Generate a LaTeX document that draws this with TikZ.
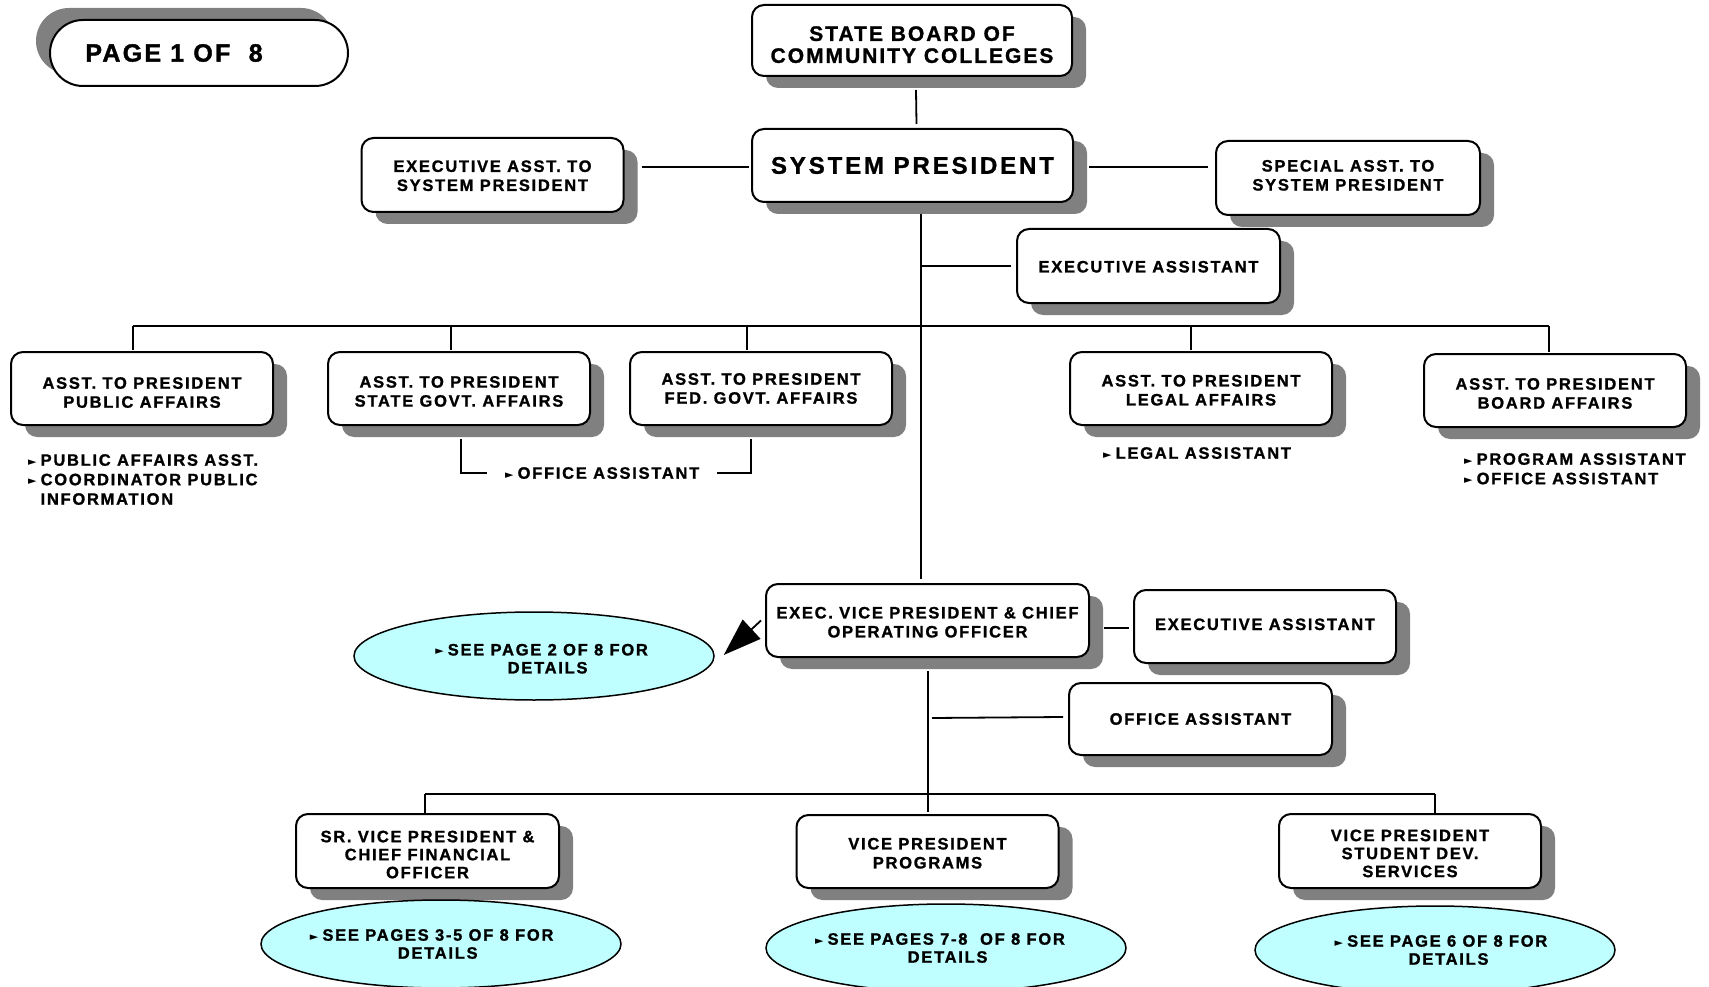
\documentclass[tikz,border=0pt]{standalone}
\usepackage{fontspec}
\setmainfont{Liberation Sans}
\newfontfamily\boxfont{Liberation Sans}[LetterSpace=10.5,FakeBold=1.2]
\newfontfamily\boardfont{Liberation Sans}[LetterSpace=9.5,FakeBold=1.2]
\newfontfamily\presfont{Liberation Sans}[LetterSpace=12,FakeBold=1.2]
\newfontfamily\pagefont{Liberation Sans}[LetterSpace=9,FakeBold=1.5]
\newfontfamily\symfont{DejaVu Sans}
\usetikzlibrary{shadows,calc,arrows.meta,shapes.geometric}

\definecolor{shade}{RGB}{128,128,128}
\definecolor{seefill}{RGB}{192,255,255}

% small pointer used in front of listed positions
\newcommand\ptr{\raisebox{0.5pt}{\symfont\fontsize{11}{11}\selectfont ►}\hspace{4pt}}
% strut that sets the height of a first text line
\newcommand\lift[1]{\rule{0pt}{#1}}
% strut that sets the depth of a last text line
\newcommand\sink[1]{\rule[-#1]{0pt}{#1}}
% move one centred line sideways without changing its width
\newcommand\nudge[2]{\hspace*{#1}#2\hspace*{-#1}}

\tikzset{
  orgbox/.style={draw, line width=2pt, rounded corners=12pt, fill=white,
    general shadow={fill=shade, shadow xshift=14pt, shadow yshift=-12pt},
    align=center, inner sep=0pt, minimum width=262pt, minimum height=73pt,
    font={\boxfont\bfseries\fontsize{16.5}{19}\selectfont}},
  pagebox/.style={draw, line width=2pt, rounded corners=33pt, fill=white,
    general shadow={fill=shade, shadow xshift=-14pt, shadow yshift=12pt},
    inner sep=0pt, minimum width=298pt, minimum height=66pt,
    font={\pagefont\bfseries\fontsize{25}{28}\selectfont}},
  seeoval/.style={ellipse, draw, line width=1.5pt, fill=seefill,
    minimum width=360pt, minimum height=88pt, inner sep=0pt, align=center,
    font={\boxfont\bfseries\fontsize{16.5}{18}\selectfont}},
  note/.style={anchor=north west, align=left, inner sep=0pt,
    font={\boxfont\bfseries\fontsize{16.5}{19.5}\selectfont}},
  link/.style={line width=1.8pt}
}

\begin{document}
\begin{tikzpicture}[x=1pt,y=-1pt]
\clip (0,0) rectangle (1709,987);

% page marker
\node[pagebox] (pg) at (199,53) {PAGE 1 OF\ \ 8\hspace*{50pt}};

% top of the organisation
\node[orgbox, minimum width=320pt, minimum height=71pt,
  font={\boardfont\bfseries\fontsize{21}{22}\selectfont}] (board) at (912,40.5)
  {\lift{23pt}STATE BOARD OF\\COMMUNITY COLLEGES};
\node[orgbox, minimum width=321pt,
  font={\presfont\bfseries\fontsize{24}{26}\selectfont}] (pres) at (912.5,165.5)
  {SYSTEM PRESIDENT};
\node[orgbox, minimum height=74pt] (eats) at (492.5,175) {\lift{13pt}EXECUTIVE ASST. TO\\SYSTEM PRESIDENT};
\node[orgbox, minimum width=264pt, minimum height=74pt] (sasp) at (1348,178) {SPECIAL ASST. TO\\SYSTEM PRESIDENT\sink{5.5pt}};
\node[orgbox, minimum width=263pt, minimum height=74pt] (ea1) at (1148.5,266) {\lift{13pt}EXECUTIVE ASSISTANT};

% assistants to the president
\node[orgbox] (pa) at (142,388.5) {\lift{19.6pt}ASST. TO PRESIDENT\\PUBLIC AFFAIRS};
\node[orgbox] (sg) at (459,388.5) {\lift{17.4pt}ASST. TO PRESIDENT\\STATE GOVT. AFFAIRS};
\node[orgbox] (fg) at (761,388.5) {ASST. TO PRESIDENT\\FED. GOVT. AFFAIRS};
\node[orgbox] (la) at (1201,388.5) {\lift{15pt}ASST. TO PRESIDENT\\LEGAL AFFAIRS};
\node[orgbox] (ba) at (1555,390.5) {\lift{17.4pt}ASST. TO PRESIDENT\\BOARD AFFAIRS};

% staff listed under the assistants
\node[note] (paL) at (28,454) {\ptr PUBLIC AFFAIRS ASST.\\\ptr COORDINATOR PUBLIC\\\phantom{\ptr}INFORMATION};
\node[note] (ofL) at (505,467) {\ptr OFFICE ASSISTANT};
\node[note] (laL) at (1103,447) {\ptr LEGAL ASSISTANT};
\node[note] (baL) at (1464,453) {\ptr PROGRAM ASSISTANT\\\ptr OFFICE ASSISTANT};

% executive vice president and staff
\node[orgbox, minimum width=323pt] (evp) at (927.5,620.5) {\lift{15pt}EXEC. VICE PRESIDENT \& CHIEF\\OPERATING OFFICER};
\node[orgbox] (ea2) at (1265,626.5) {EXECUTIVE ASSISTANT\sink{4.5pt}};
\node[orgbox, minimum width=263pt, minimum height=72pt] (oa) at (1200.5,719) {OFFICE ASSISTANT};
\node[seeoval] (see2) at (534,656)
  {\lift{17pt}\nudge{7.6pt}{\ptr SEE PAGE 2 OF 8 FOR}\\\nudge{13.6pt}{DETAILS}};

% vice presidents
\node[orgbox, minimum width=263pt, minimum height=74pt,
  font={\boxfont\bfseries\fontsize{16.5}{18}\selectfont}] (svp) at (427.5,851)
  {\lift{18.6pt}SR. VICE PRESIDENT \&\\CHIEF FINANCIAL\\OFFICER};
\node[orgbox] (vpp) at (927.5,851.5) {\lift{15pt}VICE PRESIDENT\\PROGRAMS};
\node[orgbox, minimum height=74pt,
  font={\boxfont\bfseries\fontsize{16.5}{18}\selectfont}] (vps) at (1410,851)
  {\lift{16.4pt}VICE PRESIDENT\\STUDENT DEV.\\SERVICES};
\node[seeoval] (see35) at (441,944)
  {\nudge{-9.3pt}{\ptr SEE PAGES 3-5 OF 8 FOR}\\\nudge{-3.3pt}{DETAILS}};
\node[seeoval] (see78) at (946,948)
  {\nudge{-6pt}{\ptr SEE PAGES 7-8\ \ OF 8 FOR}\\\nudge{1.6pt}{DETAILS}};
\node[seeoval] (see6) at (1435,950)
  {\nudge{6pt}{\ptr SEE PAGE 6 OF 8 FOR}\\\nudge{13.6pt}{DETAILS}};

% connectors at the top
\draw[link] ($(board.south)+(4,13)$) -- ($(pres.north)+(4,-4)$);
\draw[link] ($(pres.west)+(-2,1.5)$) -- ($(eats.east)+(17,-8)$);
\draw[link] ($(pres.east)+(15,1.5)$) -- ($(sasp.west)+(-7,-11)$);
\coordinate (trunk) at ($(pres.south)+(8.5,11)$);
\draw[link] (trunk) -- ($(evp.north)+(-6.5,-4)$);
\draw[link] (trunk |- ea1.west) -- ($(ea1.west)+(-5,0)$);

% bus to the assistants
\coordinate (busL) at ($(pa.north)+(-9,-25)$);
\draw[link] (busL) -- ($(ba.north)+(-6,-27)$);
\draw[link] (busL) -- ($(pa.north)+(-9,-1)$);
\draw[link] ($(sg.north)+(-8,-25)$) -- ($(sg.north)+(-8,-1)$);
\draw[link] ($(fg.north)+(-14,-25)$) -- ($(fg.north)+(-14,-1)$);
\draw[link] ($(la.north)+(-10,-25)$) -- ($(la.north)+(-10,-1)$);
\draw[link] ($(ba.north)+(-6,-27)$) -- ($(ba.north)+(-6,-1)$);

% shared office assistant bracket
\draw[link] ($(sg.south)+(2,13)$) |- ($(ofL.west)+(-18,0)$);
\draw[link] ($(ofL.east)+(18,0)$) -| ($(fg.south)+(-10,13)$);

% executive vice president branches
\draw[link, -{Triangle[length=38pt,width=26pt]}] ($(evp.west)+(-4,0)$) -- ($(see2.east)+(9,-1)$);
\draw[link] ($(evp.east)+(14,7.5)$) -- ($(ea2.west)+(-4,1.5)$);
\coordinate (trunkB) at ($(evp.south)+(0.5,13)$);
\draw[link] (trunkB) -- ($(vpp.north)+(0.5,-2)$);
\draw[link] ($(trunkB)+(4,47)$) -- ($(oa.west)+(-5,-2)$);

% bus to the vice presidents
\coordinate (busB) at ($(svp.north)+(-2.5,-19)$);
\draw[link] (busB) -- ($(vps.north)+(25,-19)$);
\draw[link] (busB) -- ($(svp.north)+(-2.5,0)$);
\draw[link] ($(vps.north)+(25,-19)$) -- ($(vps.north)+(25,0)$);
\end{tikzpicture}
\end{document}
